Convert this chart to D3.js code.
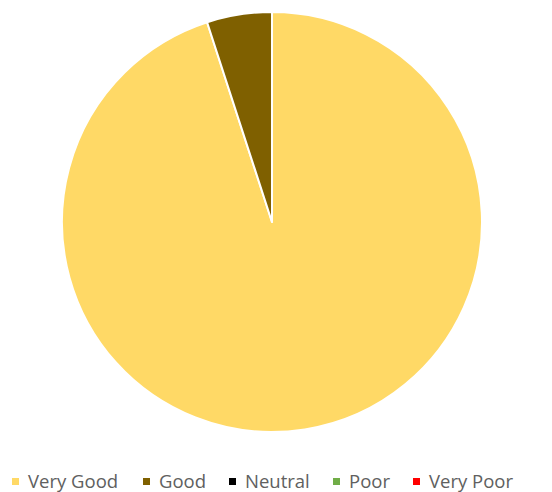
<!DOCTYPE html>
<html>
<head>
<meta charset="utf-8">
<script src="https://cdn.jsdelivr.net/npm/d3@7"></script>
<style>
  html, body { margin: 0; padding: 0; background: #ffffff; }
  svg { display: block; }
</style>
</head>
<body>
<svg id="chart" width="552" height="492"></svg>
<script>
// Survey ratings and their shares
const categories = ["Very Good", "Good", "Neutral", "Poor", "Very Poor"];
const values = [95, 5, 0, 0, 0];
const colors = ["#FFD966", "#7F6000", "#000000", "#70AD47", "#FF0000"];

const data = categories.map((c, i) => ({ name: c, value: values[i], color: colors[i] }));

const svg = d3.select("#chart");
const cx = 272, cy = 222, radius = 210;

const pie = d3.pie().value(d => d.value).sort(null);
const arc = d3.arc().innerRadius(0).outerRadius(radius);

svg.append("g")
  .attr("transform", `translate(${cx},${cy})`)
  .selectAll("path")
  .data(pie(data).filter(d => d.data.value > 0))
  .join("path")
  .attr("d", arc)
  .attr("fill", d => d.data.color)
  .attr("stroke", "#ffffff")
  .attr("stroke-width", 2)
  .attr("stroke-linejoin", "round");

// Legend along the bottom
const legendX = [12, 143, 229, 333, 413];
const legend = svg.append("g").attr("transform", "translate(0,482)");
const items = legend.selectAll("g")
  .data(data)
  .join("g")
  .attr("transform", (d, i) => `translate(${legendX[i]},0)`);

items.append("rect")
  .attr("x", 0).attr("y", -4)
  .attr("width", 7).attr("height", 7)
  .attr("fill", d => d.color);

items.append("text")
  .attr("x", 16)
  .attr("y", 0)
  .attr("dy", "0.35em")
  .attr("font-family", "'Open Sans', 'Liberation Sans', sans-serif")
  .attr("font-size", 18.5)
  .attr("fill", "#606060")
  .text(d => d.name);
</script>
</body>
</html>
